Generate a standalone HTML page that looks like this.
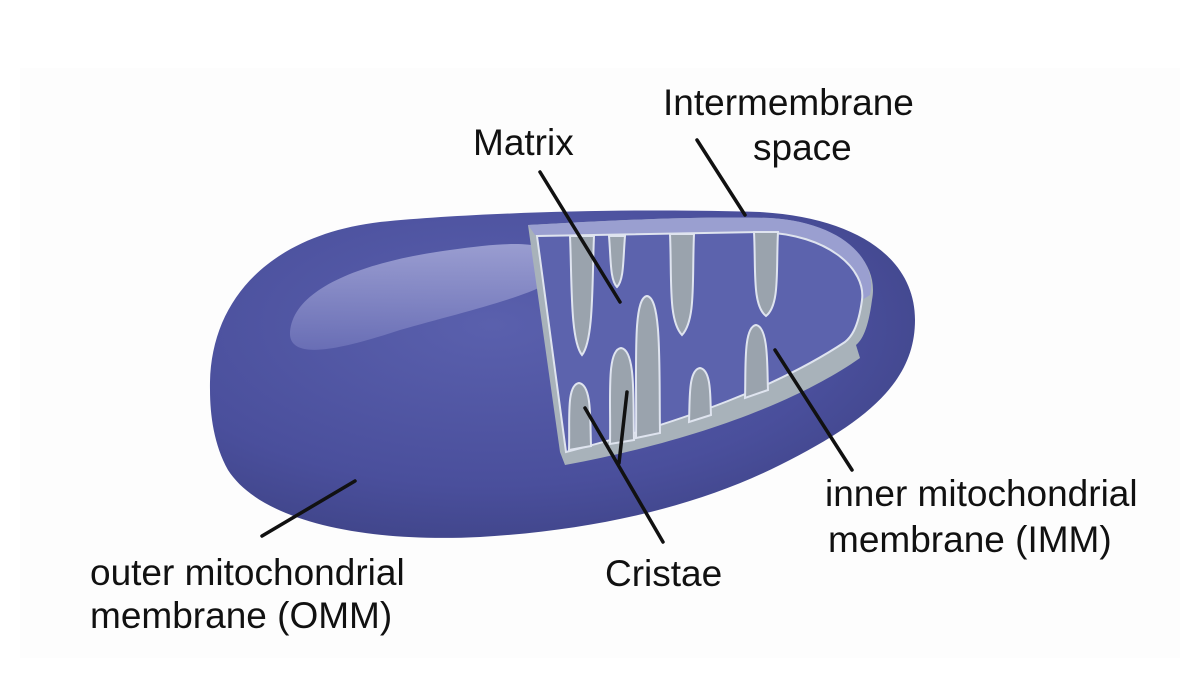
<!DOCTYPE html>
<html><head><meta charset="utf-8"><style>
html,body{margin:0;padding:0;background:#fff;}
svg{display:block;}
text{font-family:"Liberation Sans",Arial,sans-serif;font-size:37px;fill:#111;}
</style></head><body>
<svg width="1200" height="676" viewBox="0 0 1200 676" xmlns="http://www.w3.org/2000/svg">
<defs>
<radialGradient id="bg" cx="0.4" cy="0.35" r="0.7">
<stop offset="0" stop-color="#5a60ad"/>
<stop offset="0.7" stop-color="#4a4f9c"/>
<stop offset="1" stop-color="#3f4488"/>
</radialGradient>
<linearGradient id="hl" x1="0" y1="0" x2="0" y2="1">
<stop offset="0" stop-color="#a6a9d8"/>
<stop offset="1" stop-color="#6d72b8"/>
</linearGradient>
</defs>
<rect x="20" y="68" width="1160" height="590" fill="#fdfdfd"/>
<path d="M210,390 C208,300 270,235 380,222 C480,212 640,208 760,212 C860,218 915,260 915,320 C915,380 870,420 780,465 C700,505 600,530 480,537 C360,543 260,520 228,470 C214,445 210,415 210,390 Z" fill="url(#bg)"/>
<path d="M290,335 C290,290 360,262 450,250 C520,240 560,240 560,270 C560,290 470,310 400,330 C340,350 292,360 290,335 Z" fill="url(#hl)" opacity="0.85"/>
<path d="M528,225 C620,220 700,216 770,218 C840,222 880,260 872,300 C868,330 862,340 856,345 L860,358 C800,400 700,440 565,465 L560,452 Z" fill="#a8b2ba"/>
<path d="M528,225 C620,220 700,216 770,218 C840,222 878,258 870,295 L862,300 C860,262 825,232 760,232 L535,235 Z" fill="#9a9fd0"/>
<path d="M537,236 L760,232 C830,234 866,270 862,300 C858,330 850,338 845,342 C780,385 690,420 566,452 Z" fill="#5c63ad" stroke="#dfe4ef" stroke-width="2"/>
<g fill="#9aa3ad" stroke="#dfe4ef" stroke-width="2">
<path d="M570,236 C572,280 570,340 582,355 C594,340 592,280 594,236 Z"/>
<path d="M609,236 C611,260 610,280 617,287 C624,280 623,260 625,236 Z"/>
<path d="M670,234 C672,280 668,320 682,335 C696,320 692,280 694,234 Z"/>
<path d="M754,232 C756,270 752,305 766,316 C780,305 776,270 778,232 Z"/>
<path d="M569,450 C570,420 566,385 579,383 C592,385 590,420 591,446 Z"/>
<path d="M610,444 C611,400 606,350 621,348 C636,350 633,400 634,440 Z"/>
<path d="M636,438 C637,370 632,298 647,296 C662,298 659,370 660,433 Z"/>
<path d="M689,422 C690,400 688,370 700,368 C712,370 710,400 711,415 Z"/>
<path d="M745,398 C746,370 743,327 756,325 C769,327 767,370 768,390 Z"/>
</g>
<g stroke="#111" stroke-width="3.5" stroke-linecap="round">
<line x1="540" y1="172" x2="620" y2="302"/>
<line x1="697" y1="140" x2="745" y2="215"/>
<line x1="775" y1="350" x2="852" y2="470"/>
<line x1="585" y1="408" x2="663" y2="542"/>
<line x1="627" y1="392" x2="619" y2="463"/>
<line x1="355" y1="481" x2="262" y2="536"/>
</g>
<text x="473" y="155">Matrix</text>
<text x="663" y="115">Intermembrane</text>
<text x="753" y="160">space</text>
<text x="825" y="506">inner mitochondrial</text>
<text x="828" y="552">membrane (IMM)</text>
<text x="605" y="586">Cristae</text>
<text x="90" y="585">outer mitochondrial</text>
<text x="90" y="628">membrane (OMM)</text>
</svg>
</body></html>
